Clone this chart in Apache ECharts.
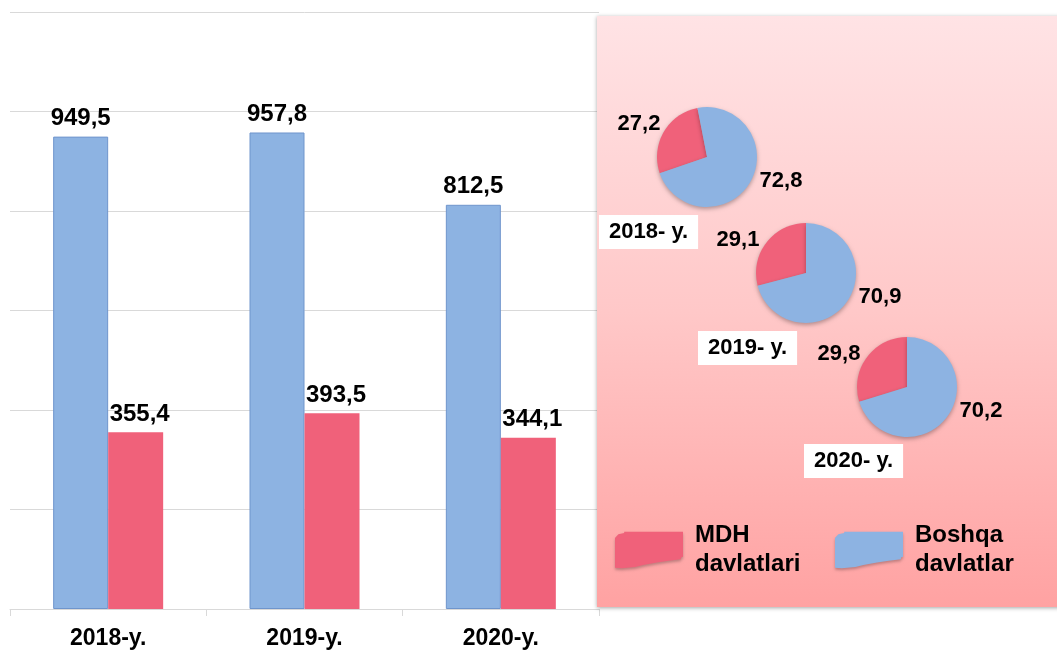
<!DOCTYPE html>
<html>
<head>
<meta charset="utf-8">
<script src="https://cdn.jsdelivr.net/npm/echarts@6/dist/echarts.min.js"></script>
<style>
  html, body { margin: 0; padding: 0; background: #ffffff; }
  #chart { width: 1057px; height: 652px; }
</style>
</head>
<body>
<div id="chart"></div>
<script>
// ---- data ----
const years = ['2018-y.', '2019-y.', '2020-y.'];
const otherValues = [949.5, 957.8, 812.5];   // Boshqa davlatlar (blue)
const mdhValues = [355.4, 393.5, 344.1];     // MDH davlatlari (red)
const pieTitles = ['2018- y.', '2019- y.', '2020- y.'];
const mdhShare = [27.2, 29.1, 29.8];
const otherShare = [72.8, 70.9, 70.2];
const seriesNames = ['MDH davlatlari', 'Boshqa davlatlar'];

// ---- layout / style ----
const FONT = '"Liberation Sans", Arial, sans-serif';
const BLUE = '#8DB3E2';
const RED = '#F0617A';
const pieCenters = [[707, 157], [806, 273], [907, 387]];
const pieStart = [101, 90, 90];
const titleBoxes = [[599, 215], [698, 331], [804, 444]];
const swatch = 'path://M0,19 L10,8 L27,4 L27,0 L200,0 L200,74 L194,76 L194,81 Q120,88 60,104 L20,108 L0,106 Z';

const fmt = v => Number(v).toFixed(1).replace('.', ',');

const chart = echarts.init(document.getElementById('chart'), null, { renderer: 'canvas' });

const pieSeries = pieCenters.map((c, i) => ({
  type: 'pie',
  name: 'pie' + i,
  center: c,
  radius: 50,
  startAngle: pieStart[i],
  clockwise: false,
  z: 3,
  silent: true,
  animation: false,
  label: {
    show: true,
    position: 'center',
    formatter: p => fmt(p.value),
    fontFamily: FONT,
    fontSize: 22,
    fontWeight: 'bold',
    color: '#000'
  },
  labelLine: { show: false },
  labelLayout: p => (p.dataIndex === 0
    ? { x: c[0] - 68, y: c[1] - 33, align: 'center', verticalAlign: 'middle' }
    : { x: c[0] + 74, y: c[1] + 24, align: 'center', verticalAlign: 'middle' }),
  itemStyle: {
    borderWidth: 0,
    shadowBlur: 4,
    shadowColor: 'rgba(0,0,0,0.3)',
    shadowOffsetY: 2
  },
  emphasis: { disabled: true },
  data: [
    { name: seriesNames[0], value: mdhShare[i], itemStyle: { color: RED } },
    { name: seriesNames[1], value: otherShare[i], itemStyle: { color: BLUE } }
  ]
}));

const legendBase = {
  top: 516,
  itemWidth: 68,
  itemHeight: 38,
  icon: swatch,
  selectedMode: false,
  formatter: n => n.replace(' ', '\n'),
  itemStyle: { borderWidth: 0, shadowBlur: 3, shadowColor: 'rgba(0,0,0,0.25)', shadowOffsetY: 2 },
  textStyle: {
    fontFamily: FONT, fontSize: 24, fontWeight: 'bold', color: '#000',
    lineHeight: 29, padding: [0, 0, 0, 7]
  }
};

const option = {
  animation: false,
  backgroundColor: '#ffffff',
  grid: { left: 10, top: 12, width: 589, height: 597, outerBoundsMode: 'none', containLabel: false },
  xAxis: {
    type: 'category',
    data: years,
    boundaryGap: true,
    axisLine: { show: true, lineStyle: { color: '#d9d9d9', width: 1 } },
    axisTick: { show: true, length: 7, lineStyle: { color: '#d9d9d9' } },
    axisLabel: { margin: 18, fontFamily: FONT, fontSize: 23, fontWeight: 'bold', color: '#000' },
    splitLine: { show: false }
  },
  yAxis: {
    type: 'value',
    min: 0, max: 1200, interval: 200,
    axisLine: { show: false },
    axisTick: { show: false },
    axisLabel: { show: false },
    splitLine: { show: true, lineStyle: { color: '#d9d9d9', width: 1 } }
  },
  graphic: [{
    type: 'rect',
    z: 1,
    silent: true,
    shape: { x: 597, y: 16, width: 470, height: 591 },
    style: {
      fill: new echarts.graphic.LinearGradient(0, 0, 0, 1, [
        { offset: 0, color: '#FFE3E5' },
        { offset: 0.5, color: '#FFC8C8' },
        { offset: 1, color: '#FFA2A2' }
      ]),
      shadowBlur: 4,
      shadowColor: 'rgba(0,0,0,0.35)',
      shadowOffsetX: 0,
      shadowOffsetY: 1
    }
  }],
  title: pieTitles.map((t, i) => ({
    text: t,
    left: titleBoxes[i][0],
    top: titleBoxes[i][1],
    backgroundColor: '#ffffff',
    padding: [6, 10],
    z: 6,
    textStyle: { fontFamily: FONT, fontSize: 22, fontWeight: 'bold', color: '#000', lineHeight: 22 }
  })),
  legend: [
    Object.assign({}, legendBase, { left: 610, data: [seriesNames[0]] }),
    Object.assign({}, legendBase, { left: 830, data: [seriesNames[1]] })
  ],
  series: [
    {
      type: 'bar',
      name: seriesNames[1],
      data: otherValues,
      barWidth: 55,
      barGap: '0%',
      z: 2,
      itemStyle: { color: BLUE, borderColor: '#6F95CC', borderWidth: 1 },
      label: {
        show: true, position: 'top', distance: 6,
        formatter: p => fmt(p.value),
        fontFamily: FONT, fontSize: 24, fontWeight: 'bold', color: '#000'
      },
      emphasis: { disabled: true }
    },
    {
      type: 'bar',
      name: seriesNames[0],
      data: mdhValues,
      barWidth: 55,
      barGap: '0%',
      z: 2,
      itemStyle: { color: RED, borderWidth: 0 },
      label: {
        show: true, position: 'top', distance: 6, offset: [4, 0],
        formatter: p => fmt(p.value),
        fontFamily: FONT, fontSize: 24, fontWeight: 'bold', color: '#000'
      },
      emphasis: { disabled: true }
    }
  ].concat(pieSeries)
};

chart.setOption(option);
</script>
</body>
</html>
